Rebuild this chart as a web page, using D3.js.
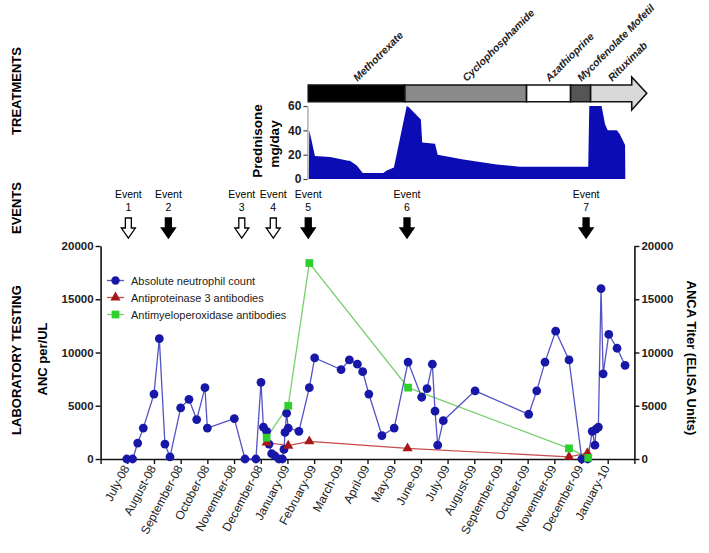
<!DOCTYPE html>
<html>
<head>
<meta charset="utf-8">
<script src="https://cdn.jsdelivr.net/npm/d3@7"></script>
<style>
  body { margin: 0; background: #fff; }
  svg { font-family: Arial, "Liberation Sans", sans-serif; }
</style>
</head>
<body>
<div id="plot"></div>
<script>
// month index: 0 = start of June 2008, 20 = start of February 2010
const monthLabels = ["July-08", "August-08", "September-08", "October-08", "November-08", "December-08",
  "January-09", "February-09", "March-09", "April-09", "May-09", "June-09", "July-09", "August-09",
  "September-09", "October-09", "November-09", "December-09", "January-10"];

// Absolute neutrophil count
const ancMonths = [0.98, 1.20, 1.39, 1.60, 2.00, 2.20, 2.41, 2.60, 3.00, 3.31, 3.60, 3.91, 4.00, 5.01,
  5.41, 5.82, 6.01, 6.10, 6.22, 6.31, 6.41, 6.53, 6.68, 6.81, 6.87, 6.91, 6.97, 7.03, 7.43, 7.82, 8.02,
  9.01, 9.32, 9.62, 9.82, 10.05, 10.54, 11.00, 11.52, 12.03, 12.23, 12.43, 12.53, 12.63, 12.84, 14.03,
  16.04, 16.34, 16.65, 17.05, 17.55, 18.03, 18.25, 18.42, 18.52, 18.56, 18.65, 18.75, 18.83,
  19.04, 19.35, 19.65];
const ancValues = [0, 0, 1500, 2900, 6100, 11300, 1400, 200, 4800, 5600, 3700, 6700, 2900, 3800,
  0, 0, 7200, 3000, 2600, 1400, 500, 300, 0, 0, 900, 2500, 4300, 2900, 2600, 6700, 9500,
  8400, 9300, 8900, 8200, 6100, 2200, 2900, 9100, 5800, 6600, 8900, 4500, 1300, 3600, 6400,
  4200, 6400, 9100, 12000, 9300, 0, 0, 2600, 1300, 2800, 3000, 16000, 8000,
  11700, 10400, 8800];
// Antiproteinase 3 antibodies
const pr3Months = [6.22, 7.03, 7.82, 11.50, 17.55, 18.24];
const pr3Values = [1550, 1250, 1650, 1000, 200, 550];
// Antimyeloperoxidase antibodies
const mpoMonths = [6.22, 7.03, 7.82, 11.52, 17.55, 18.27];
const mpoValues = [2000, 5000, 18400, 6700, 1000, 100];

// Prednisone mg/day
const predMonths = [7.80, 7.82, 8.03, 8.60, 9.28, 9.34, 9.60, 9.82, 10.59, 10.72, 10.99, 11.47, 11.55,
  12.00, 12.05, 12.53, 12.63, 13.59, 14.84, 15.71, 18.27, 18.31, 18.77, 18.90, 19.00, 19.34, 19.45, 19.65, 19.66];
const predValues = [0, 40, 19, 18, 15, 15, 11, 5, 5, 7, 9.5, 60, 59,
  49, 30, 29, 20, 16, 12, 10, 10, 60, 60, 45, 40, 40, 37, 28, 0];

// Treatments
const treatNames = ["Methotrexate", "Cyclophosphamide", "Azathioprine", "Mycofenolate Mofetil", "Rituximab"];
const treatStart = [7.78, 11.40, 15.96, 17.61, 18.36];
const treatEnd = [11.40, 15.96, 17.61, 18.36, 19.90];
const treatFill = ["#000000", "#8a8a8a", "#ffffff", "#555555", "#d9d9d9"];

// Events
const eventLabels = ["1", "2", "3", "4", "5", "6", "7"];
const eventMonths = [1.04, 2.54, 5.29, 6.47, 7.78, 11.48, 18.19];
const eventSolid = [false, true, false, false, true, true, true];

const width = 709, height = 553;

const svg = d3.select("#plot")
    .append("svg")
    .attr("width", width)
    .attr("height", height);

const x = d3.scaleLinear().domain([0, 20]).range([100.6, 634.4]);
const y = d3.scaleLinear().domain([0, 20000]).range([459, 246]);
const yP = d3.scaleLinear().domain([0, 60]).range([179, 106]);

// section labels
[["TREATMENTS", 91], ["EVENTS", 208], ["LABORATORY TESTING", 360]].forEach(([t, cy]) => {
    svg.append("text")
        .attr("transform", `translate(21,${cy}) rotate(-90)`)
        .attr("text-anchor", "middle")
        .attr("font-size", "13px")
        .attr("font-weight", "bold")
        .text(t);
});

// axes
function styleAxis(g) {
    g.selectAll(".domain").attr("stroke", "#111").attr("stroke-width", 1.6);
    g.selectAll(".tick line").attr("stroke", "#111").attr("stroke-width", 1.4);
    g.selectAll(".tick text").attr("fill", "#222").attr("font-weight", "bold")
        .attr("font-family", "Arial, 'Liberation Sans', sans-serif");
}

const yTicks = [0, 5000, 10000, 15000, 20000];
svg.append("g")
    .attr("transform", `translate(${x(0)},0)`)
    .call(d3.axisLeft(y).tickValues(yTicks).tickSize(5).tickSizeOuter(0).tickFormat(d3.format("d")).tickPadding(2))
    .call(styleAxis)
    .selectAll(".tick text").attr("font-size", "11.5px");

svg.append("g")
    .attr("transform", `translate(${x(20)},0)`)
    .call(d3.axisRight(y).tickValues(yTicks).tickSize(5).tickSizeOuter(0).tickFormat(d3.format("d")).tickPadding(2))
    .call(styleAxis)
    .selectAll(".tick text").attr("font-size", "11.5px");

const xAxis = svg.append("g")
    .attr("transform", `translate(0,${y(0)})`)
    .call(d3.axisBottom(x).tickValues(d3.range(0, 21)).tickSize(5).tickSizeOuter(0)
        .tickFormat(i => monthLabels[i - 1] || ""))
    .call(styleAxis);
xAxis.selectAll(".tick text")
    .attr("font-weight", "normal")
    .attr("font-size", "12px")
    .attr("text-anchor", "end")
    .attr("dy", null)
    .attr("y", null)
    .attr("transform", "translate(2,9) rotate(-62)");

svg.append("text")
    .attr("transform", `translate(47,359) rotate(-90)`)
    .attr("text-anchor", "middle")
    .attr("font-size", "13px")
    .attr("font-weight", "bold")
    .text("ANC per/UL");

svg.append("text")
    .attr("transform", `translate(687,358) rotate(90)`)
    .attr("text-anchor", "middle")
    .attr("font-size", "13px")
    .attr("font-weight", "bold")
    .text("ANCA Titer (ELISA Units)");

// series
const line = d3.line().x(d => x(d[0])).y(d => y(d[1]));
const anc = ancMonths.map((m, i) => [m, ancValues[i]]);
const pr3 = pr3Months.map((m, i) => [m, pr3Values[i]]);
const mpo = mpoMonths.map((m, i) => [m, mpoValues[i]]);

svg.append("path").datum(pr3).attr("d", line)
    .attr("fill", "none").attr("stroke", "#c84a4a").attr("stroke-width", 1.2);
svg.append("path").datum(mpo).attr("d", line)
    .attr("fill", "none").attr("stroke", "#78cf6e").attr("stroke-width", 1.3);
svg.append("path").datum(anc).attr("d", line)
    .attr("fill", "none").attr("stroke", "#5454c4").attr("stroke-width", 1.3);

const tri = d3.symbol().type(d3.symbolTriangle).size(45);
const sq = d3.symbol().type(d3.symbolSquare).size(60);

svg.selectAll("circle.anc").data(anc).join("circle")
    .attr("class", "anc")
    .attr("cx", d => x(d[0])).attr("cy", d => y(d[1]))
    .attr("r", 4.4).attr("fill", "#1818a8");
svg.selectAll("path.pr3").data(pr3).join("path")
    .attr("class", "pr3")
    .attr("transform", d => `translate(${x(d[0])},${y(d[1])})`)
    .attr("d", tri).attr("fill", "#a81818");
svg.selectAll("path.mpo").data(mpo).join("path")
    .attr("class", "mpo")
    .attr("transform", d => `translate(${x(d[0])},${y(d[1])})`)
    .attr("d", sq).attr("fill", "#2ed02e");

// legend
const legendItems = [
    { label: "Absolute neutrophil count", color: "#1818a8", lc: "#5454c4", shape: "circle" },
    { label: "Antiproteinase 3 antibodies", color: "#a81818", lc: "#c84a4a", shape: "tri" },
    { label: "Antimyeloperoxidase antibodies", color: "#2ed02e", lc: "#78cf6e", shape: "sq" }
];
const legend = svg.append("g");
legendItems.forEach((d, i) => {
    const ly = 280.5 + i * 17;
    legend.append("line").attr("x1", 107).attr("x2", 124).attr("y1", ly).attr("y2", ly)
        .attr("stroke", d.lc).attr("stroke-width", 1.3);
    if (d.shape === "circle") {
        legend.append("circle").attr("cx", 115.5).attr("cy", ly).attr("r", 4.2).attr("fill", d.color);
    } else {
        legend.append("path").attr("transform", `translate(115.5,${ly})`)
            .attr("d", d.shape === "tri" ? tri : sq).attr("fill", d.color);
    }
    legend.append("text").attr("x", 131).attr("y", ly + 4)
        .attr("font-size", "11px").attr("fill", "#222").text(d.label);
});

// events
const events = svg.append("g");
eventMonths.forEach((m, i) => {
    const ex = x(m);
    events.append("text").attr("x", ex).attr("y", 198).attr("text-anchor", "middle")
        .attr("font-size", "10.5px").text("Event");
    events.append("text").attr("x", ex).attr("y", 211).attr("text-anchor", "middle")
        .attr("font-size", "10.5px").text(eventLabels[i]);
    events.append("path")
        .attr("d", `M${ex - 3},218 L${ex + 3},218 L${ex + 3},228 L${ex + 7},228 L${ex},238 L${ex - 7},228 L${ex - 3},228 Z`)
        .attr("fill", eventSolid[i] ? "#000" : "#fff")
        .attr("stroke", "#000").attr("stroke-width", 1.3)
        .attr("stroke-linejoin", "miter");
});

// prednisone area
const pred = predMonths.map((m, i) => [m, predValues[i]]);
svg.append("path").datum(pred)
    .attr("d", d3.area().x(d => x(d[0])).y0(yP(0)).y1(d => yP(d[1])))
    .attr("fill", "#0c0cb4");

svg.append("g")
    .attr("transform", `translate(${x(7.75)},0)`)
    .call(d3.axisLeft(yP).tickValues([0, 20, 40, 60]).tickSize(4).tickSizeOuter(0).tickPadding(2))
    .call(g => {
        g.selectAll(".domain").attr("stroke", "#888").attr("stroke-width", 1);
        g.selectAll(".tick line").attr("stroke", "#444").attr("stroke-width", 1.2);
        g.selectAll(".tick text").attr("font-size", "12px").attr("font-weight", "bold").attr("fill", "#222")
            .attr("font-family", "Arial, 'Liberation Sans', sans-serif");
    });

svg.append("text")
    .attr("transform", `translate(262,141) rotate(-90)`)
    .attr("text-anchor", "middle")
    .attr("font-size", "13.5px")
    .attr("font-weight", "bold")
    .text("Prednisone");
svg.append("text")
    .attr("transform", `translate(279,144) rotate(-90)`)
    .attr("text-anchor", "middle")
    .attr("font-size", "13.5px")
    .attr("font-weight", "bold")
    .text("mg/day");

// treatments bar
const barTop = 85, barBot = 101.7;
treatNames.forEach((name, i) => {
    const x0 = x(treatStart[i]), x1 = x(treatEnd[i]);
    let d;
    if (i === treatNames.length - 1) {
        const tip = x1 + 15;
        d = `M${x0},${barTop} L${x1},${barTop} L${x1},77 L${tip},93.3 L${x1},110 L${x1},${barBot} L${x0},${barBot} Z`;
    } else {
        d = `M${x0},${barTop} L${x1},${barTop} L${x1},${barBot} L${x0},${barBot} Z`;
    }
    svg.append("path").attr("d", d)
        .attr("fill", treatFill[i]).attr("stroke", "#111").attr("stroke-width", 1.6);
    const cx = (x0 + x1) / 2 + 1;
    svg.append("text")
        .attr("transform", `translate(${cx},82) rotate(-45)`)
        .attr("font-size", "10.5px")
        .attr("font-weight", "bold")
        .attr("font-style", "italic")
        .attr("fill", "#222")
        .text(name);
});
</script>
</body>
</html>
